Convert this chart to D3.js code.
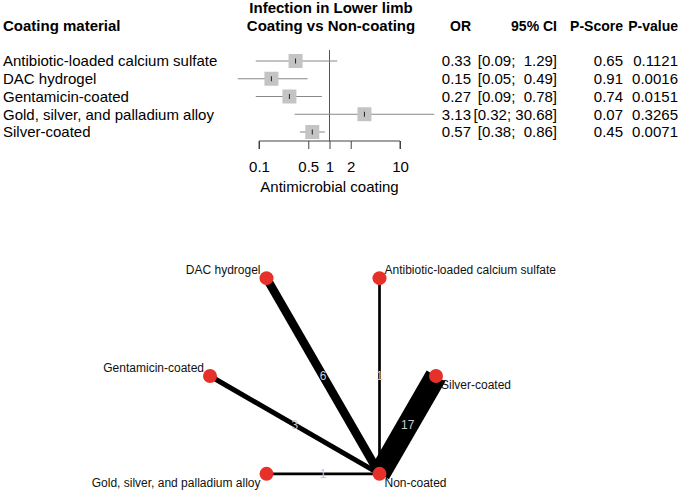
<!DOCTYPE html>
<html>
<head>
<meta charset="utf-8">
<script src="https://cdn.jsdelivr.net/npm/d3@7"></script>
<style>
  body { margin: 0; background: #fff; }
  text { font-family: "Liberation Sans", Arial, sans-serif; }
</style>
</head>
<body>
<div id="chart"></div>
<script>
const width = 685;
const height = 493;

// forest plot data
const treatments = ["Antibiotic-loaded calcium sulfate", "DAC hydrogel", "Gentamicin-coated",
    "Gold, silver, and palladium alloy", "Silver-coated"];
const oddsRatio = [0.33, 0.15, 0.27, 3.13, 0.57];
const lowerCI = [0.09, 0.05, 0.09, 0.32, 0.38];
const upperCI = [1.29, 0.49, 0.78, 30.68, 0.86];
const pScore = [0.65, 0.91, 0.74, 0.07, 0.45];
const pValue = ["0.1121", "0.0016", "0.0151", "0.3265", "0.0071"];
const axisTicks = [0.1, 0.5, 1, 2, 10];

// network data
const nodeOrder = ["Silver-coated", "Antibiotic-loaded calcium sulfate", "DAC hydrogel",
    "Gentamicin-coated", "Gold, silver, and palladium alloy", "Non-coated"];
const edgeFrom = ["Antibiotic-loaded calcium sulfate", "DAC hydrogel", "Gentamicin-coated",
    "Gold, silver, and palladium alloy", "Silver-coated"];
const edgeTo = "Non-coated";
const nStudies = [1, 6, 3, 1, 17];

const svg = d3.select("#chart")
    .append("svg")
    .attr("width", width)
    .attr("height", height);

const rows = treatments.map((t, i) => ({
    name: t, or: oddsRatio[i], lo: lowerCI[i], hi: upperCI[i], ps: pScore[i], pv: pValue[i]
}));

const x = d3.scaleLog().domain([0.1, 10]).range([259, 400]);
const y = d3.scalePoint().domain(treatments).range([61, 132]);
const axisY = 141;

// headers
svg.append("text").attr("x", 3).attr("y", 26).attr("dy", "0.35em")
    .attr("font-size", 15).attr("font-weight", "bold").text("Coating material");
svg.append("text").attr("x", 331).attr("y", 8).attr("dy", "0.35em").attr("text-anchor", "middle")
    .attr("font-size", 15).attr("font-weight", "bold").text("Infection in Lower limb");
svg.append("text").attr("x", 331).attr("y", 26).attr("dy", "0.35em").attr("text-anchor", "middle")
    .attr("font-size", 15).attr("font-weight", "bold").text("Coating vs Non-coating");

const cols = [
    { head: "OR", x: 471, val: d => d.or.toFixed(2) },
    { head: "95% CI", x: 557, val: d => "[" + d.lo.toFixed(2) + "; " + d.hi.toFixed(2).padStart(5, " ") + "]" },
    { head: "P-Score", x: 623, val: d => d.ps.toFixed(2) },
    { head: "P-value", x: 678, val: d => d.pv }
];

cols.forEach(c => {
    svg.append("text").attr("x", c.x).attr("y", 26).attr("dy", "0.35em")
        .attr("text-anchor", "end").attr("font-size", 14).attr("font-weight", "bold").text(c.head);
    svg.selectAll(null).data(rows).enter().append("text")
        .attr("x", c.x).attr("y", d => y(d.name)).attr("dy", "0.35em")
        .attr("text-anchor", "end").attr("font-size", 15)
        .style("white-space", "pre")
        .text(c.val);
});

// row labels
svg.selectAll(".lab").data(rows).enter().append("text")
    .attr("x", 3).attr("y", d => y(d.name)).attr("dy", "0.35em")
    .attr("font-size", 15).text(d => d.name);

// reference line
svg.append("line").attr("x1", x(1)).attr("x2", x(1)).attr("y1", 50).attr("y2", axisY)
    .attr("stroke", "#555").attr("stroke-width", 1);

// CIs
svg.selectAll(".ci").data(rows).enter().append("line")
    .attr("x1", d => x(d.lo)).attr("x2", d => x(d.hi))
    .attr("y1", d => y(d.name)).attr("y2", d => y(d.name))
    .attr("stroke", "#888").attr("stroke-width", 1);

svg.selectAll(".sq").data(rows).enter().append("rect")
    .attr("x", d => x(d.or) - 7).attr("y", d => y(d.name) - 7)
    .attr("width", 14).attr("height", 14).attr("fill", "#c4c4c4");

svg.selectAll(".pt").data(rows).enter().append("line")
    .attr("x1", d => x(d.or)).attr("x2", d => x(d.or))
    .attr("y1", d => y(d.name) - 2.5).attr("y2", d => y(d.name) + 2.5)
    .attr("stroke", "#222").attr("stroke-width", 1);

// axis
const axis = svg.append("g").attr("transform", `translate(0,${axisY})`)
    .call(d3.axisBottom(x).tickValues(axisTicks).tickSize(8).tickPadding(12)
        .tickFormat(d => String(d)));
axis.select(".domain").attr("stroke", "#444").attr("d", `M${x(0.1)},8V0H${x(10)}V8`);
axis.selectAll(".tick line").attr("stroke", "#444");
axis.selectAll(".tick text").attr("font-size", 15).attr("fill", "#000")
    .attr("font-family", "Liberation Sans, Arial, sans-serif");
svg.append("text").attr("x", x(1)).attr("y", 187).attr("dy", "0.35em").attr("text-anchor", "middle")
    .attr("font-size", 15).text("Antimicrobial coating");

// network graph
const cx = 323, cy = 376, r = 113;
const nx = d3.scaleLinear().domain([-1, 1]).range([cx - r, cx + r]);
const ny = d3.scaleLinear().domain([-1, 1]).range([cy + r, cy - r]);
const angle = d3.scaleLinear().domain([0, nodeOrder.length]).range([0, 2 * Math.PI]);
const nodes = nodeOrder.map((n, i) => {
    const a = angle(i);
    return { name: n, a: a, x: nx(Math.cos(a)), y: ny(Math.sin(a)) };
});
const pos = {};
nodes.forEach(n => pos[n.name] = n);

const edges = edgeFrom.map((f, i) => ({ s: pos[f], t: pos[edgeTo], n: nStudies[i] }));
const w = d3.scaleLinear().domain([1, 17]).range([2.7, 21.6]);

svg.selectAll(".edge").data(edges).enter().append("line")
    .attr("x1", d => d.s.x).attr("y1", d => d.s.y)
    .attr("x2", d => d.t.x).attr("y2", d => d.t.y)
    .attr("stroke", "#000").attr("stroke-width", d => w(d.n));

svg.selectAll(".elab").data(edges).enter().append("text")
    .attr("x", d => (d.s.x + d.t.x) / 2).attr("y", d => (d.s.y + d.t.y) / 2)
    .attr("dy", "0.35em").attr("text-anchor", "middle")
    .attr("font-size", 12).attr("fill", "#c8cad2").text(d => d.n);

svg.selectAll(".node").data(nodes).enter().append("circle")
    .attr("cx", d => d.x).attr("cy", d => d.y).attr("r", 7).attr("fill", "#e5312a");

svg.selectAll(".nlab").data(nodes).enter().append("text")
    .attr("x", d => d.x + (Math.cos(d.a) > 0 ? 5 : -6))
    .attr("y", d => d.y + ((Math.sin(d.a) > 0.01 || Math.cos(d.a) < -0.99) ? -8 : 9))
    .attr("dy", "0.35em")
    .attr("text-anchor", d => Math.cos(d.a) > 0 ? "start" : "end")
    .attr("font-size", 12).attr("fill", "#111").text(d => d.name);
</script>
</body>
</html>
